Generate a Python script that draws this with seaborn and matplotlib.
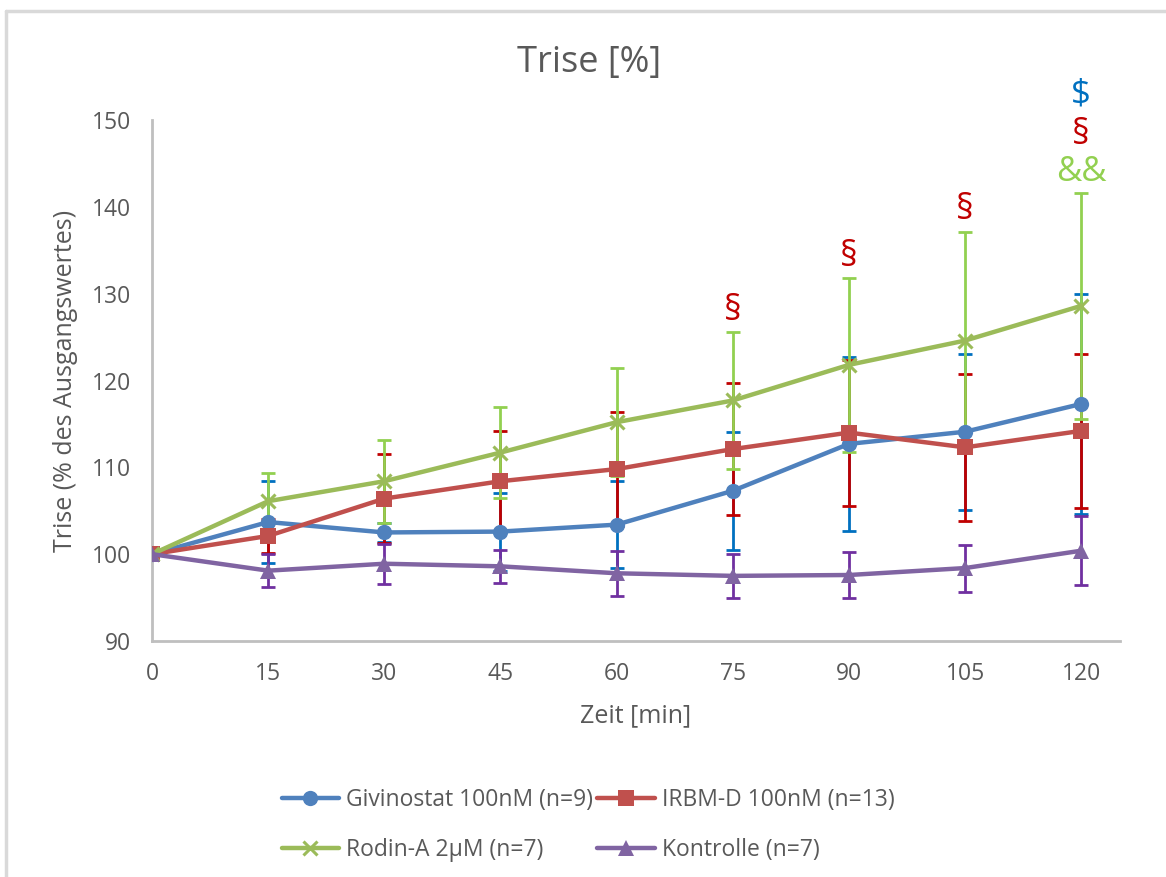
import numpy as np
import pandas as pd
import matplotlib
matplotlib.use("Agg")
import matplotlib.pyplot as plt
import seaborn as sns
from matplotlib.lines import Line2D

# ---- data ----
zeit = [0, 15, 30, 45, 60, 75, 90, 105, 120]
series_names = ["Givinostat 100nM (n=9)", "IRBM-D 100nM (n=13)",
                "Rodin-A 2µM (n=7)", "Kontrolle (n=7)"]
givinostat = [100.0, 103.7, 102.5, 102.6, 103.4, 107.3, 112.7, 114.1, 117.3]
givinostat_err = [0.0, 4.7, 1.1, 4.5, 5.0, 6.8, 10.0, 9.0, 12.7]
irbm = [100.0, 102.1, 106.4, 108.4, 109.8, 112.1, 114.0, 112.3, 114.2]
irbm_err = [0.0, 2.0, 5.1, 5.8, 6.6, 7.6, 8.4, 8.5, 8.9]
rodin = [100.0, 106.1, 108.4, 111.7, 115.2, 117.7, 121.8, 124.6, 128.6]
rodin_err = [0.0, 3.2, 4.8, 5.2, 6.2, 7.9, 10.0, 12.5, 13.0]
kontrolle = [100.0, 98.1, 98.9, 98.6, 97.8, 97.5, 97.6, 98.4, 100.4]
kontrolle_err = [0.0, 1.9, 2.3, 1.9, 2.6, 2.5, 2.6, 2.7, 4.0]

# significance annotations: (x, y, text, colour)
annot_x = [75, 90, 105, 120, 120, 120]
annot_y = [128.0, 134.2, 139.6, 152.9, 148.3, 144.0]
annot_txt = ["§", "§", "§", "$", "§", "&&"]
annot_col = ["#C00000", "#C00000", "#C00000", "#0070C0", "#C00000", "#92D050"]

line_colors = ["#4F81BD", "#C0504D", "#9BBB59", "#8064A2"]
err_colors = ["#0070C0", "#C00000", "#92D050", "#7030A0"]
markers = ["o", "s", "x", "^"]
values = [givinostat, irbm, rodin, kontrolle]
errors = [givinostat_err, irbm_err, rodin_err, kontrolle_err]

sns.set_theme(style="white")
plt.rcParams['font.family'] = ['Open Sans', 'DejaVu Sans']
txtc = "#595959"

fig = plt.figure(figsize=(11.66, 8.77), dpi=100)
ax = fig.add_axes([152/1166, 1-641/877, (1120-152)/1166, (641-120)/877])

# error bars (behind lines)
for vals, errs, ec in zip(values, errors, err_colors):
    ax.errorbar(zeit, vals, yerr=errs, fmt="none", ecolor=ec,
                elinewidth=2.0, capsize=5, capthick=2.0, zorder=2)

for name, vals, c, mk in zip(series_names, values, line_colors, markers):
    d = pd.DataFrame({"Zeit": zeit, "Wert": vals})
    if mk == "x":
        kw = dict(markersize=10, markeredgewidth=2.2, markeredgecolor=c)
    else:
        kw = dict(markersize=11, markeredgewidth=0)
    sns.lineplot(data=d, x="Zeit", y="Wert", color=c, marker=mk,
                 linewidth=3.2, ax=ax, zorder=3, **kw)

for x, y, t, c in zip(annot_x, annot_y, annot_txt, annot_col):
    ax.text(x, y, t, color=c, fontsize=25, ha="center", va="center",
            clip_on=False, zorder=5)

ax.set_xlim(0, 125)
ax.set_ylim(90, 150)
ax.set_xticks(zeit)
ax.set_yticks([90, 100, 110, 120, 130, 140, 150])
ax.tick_params(axis="both", length=0, labelsize=16.5, colors=txtc)
ax.tick_params(axis="y", pad=15)
ax.tick_params(axis="x", pad=15)
for s in ["top", "right"]:
    ax.spines[s].set_visible(False)
for s in ["left", "bottom"]:
    ax.spines[s].set_color("#BFBFBF")
    ax.spines[s].set_linewidth(2)

ax.set_xlabel("Zeit [min]", fontsize=18, color=txtc)
ax.set_ylabel("Trise (% des Ausgangswertes)", fontsize=18, color=txtc)
ax.xaxis.set_label_coords(0.5, (641-703)/521)
ax.yaxis.set_label_coords((78-152)/968, 0.5)

fig.text(589/1166, 1-63/877, "Trise [%]", fontsize=26, color=txtc,
         ha="center", va="center")

# legend (column-wise fill: col1 = Givinostat, Rodin-A; col2 = IRBM-D, Kontrolle)
handles = []
for name, c, mk in zip(series_names, line_colors, markers):
    if mk == "x":
        h = Line2D([], [], color=c, lw=3.2, marker=mk, markersize=10,
                   markeredgewidth=2.2, markeredgecolor=c)
    else:
        h = Line2D([], [], color=c, lw=3.2, marker=mk, markersize=11,
                   markeredgewidth=0)
    handles.append(h)
order = [0, 2, 1, 3]
leg = fig.legend([handles[i] for i in order], [series_names[i] for i in order],
                 ncol=2, loc="center", bbox_to_anchor=(588/1166, 1-825/877),
                 frameon=False, fontsize=16.5, handlelength=2.5,
                 handletextpad=0.3, columnspacing=0.2, labelspacing=1.15)
for t in leg.get_texts():
    t.set_color(txtc)

# outer frame (left and top only visible)
fig.add_artist(Line2D([6/1166, 6/1166], [0, 1-11/877], color="#D9D9D9",
                      lw=2.5, transform=fig.transFigure))
fig.add_artist(Line2D([6/1166, 1], [1-11/877, 1-11/877], color="#D9D9D9",
                      lw=2.5, transform=fig.transFigure))

fig.savefig("out.png", dpi=100, facecolor="white")
